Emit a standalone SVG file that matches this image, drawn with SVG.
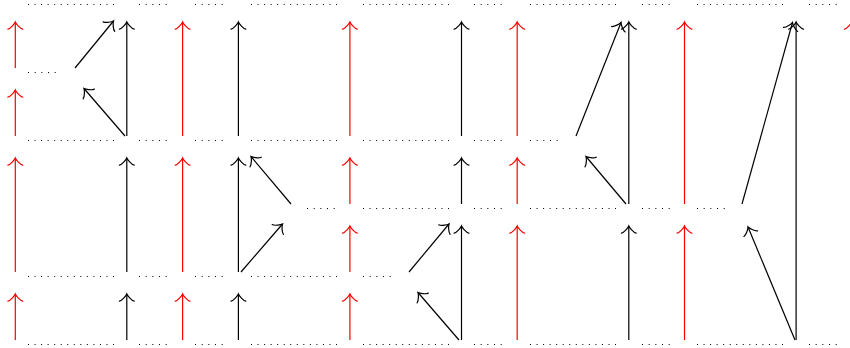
<svg xmlns="http://www.w3.org/2000/svg" width="850" height="348" viewBox="0 0 850 348">
<style>
.dl{stroke:#000;stroke-width:1.2;stroke-dasharray:1 5.54;fill:none}
.ds{stroke:#000;stroke-width:1.2;stroke-dasharray:1 5.67;fill:none}
.r{stroke:#ff0000;stroke-width:1.2;fill:none;marker-end:url(#ah-r)}
.k{stroke:#000;stroke-width:1.2;fill:none;marker-end:url(#ah-k)}
</style>
<defs>
<marker id="ah-r" markerUnits="userSpaceOnUse" orient="auto" viewBox="-10 -10 20 20" markerWidth="20" markerHeight="20" refX="0" refY="0" overflow="visible">
<path d="M -7.2 7.4 C -6.7 4.6 -1.4 0.5 0 0 C -1.4 -0.5 -6.7 -4.6 -7.2 -7.4" fill="none" stroke="#ff0000" stroke-width="1.2" stroke-linecap="round"/>
</marker>
<marker id="ah-k" markerUnits="userSpaceOnUse" orient="auto" viewBox="-10 -10 20 20" markerWidth="20" markerHeight="20" refX="0" refY="0" overflow="visible">
<path d="M -7.2 7.4 C -6.7 4.6 -1.4 0.5 0 0 C -1.4 -0.5 -6.7 -4.6 -7.2 -7.4" fill="none" stroke="#000" stroke-width="1.2" stroke-linecap="round"/>
</marker>
</defs>
<rect width="850" height="348" fill="#fff"/>
<g id="dots-row-0">
<line class="dl" x1="28" x2="114" y1="4.5" y2="4.5"/>
<line class="ds" x1="139" x2="166.7" y1="4.5" y2="4.5"/>
<line class="ds" x1="195" x2="222.7" y1="4.5" y2="4.5"/>
<line class="dl" x1="251" x2="337" y1="4.5" y2="4.5"/>
<line class="dl" x1="363" x2="449" y1="4.5" y2="4.5"/>
<line class="ds" x1="474" x2="501.7" y1="4.5" y2="4.5"/>
<line class="dl" x1="530" x2="616" y1="4.5" y2="4.5"/>
<line class="ds" x1="642" x2="669.7" y1="4.5" y2="4.5"/>
<line class="dl" x1="697" x2="783" y1="4.5" y2="4.5"/>
<line class="ds" x1="809" x2="836.7" y1="4.5" y2="4.5"/>
</g>
<g id="dots-row-1">
<line class="ds" x1="28" x2="55.7" y1="72.5" y2="72.5"/>
</g>
<g id="dots-row-2">
<line class="dl" x1="28" x2="114" y1="140.5" y2="140.5"/>
<line class="ds" x1="139" x2="166.7" y1="140.5" y2="140.5"/>
<line class="ds" x1="195" x2="222.7" y1="140.5" y2="140.5"/>
<line class="dl" x1="251" x2="337" y1="140.5" y2="140.5"/>
<line class="dl" x1="363" x2="449" y1="140.5" y2="140.5"/>
<line class="ds" x1="474" x2="501.7" y1="140.5" y2="140.5"/>
<line class="ds" x1="530" x2="557.7" y1="140.5" y2="140.5"/>
</g>
<g id="dots-row-3">
<line class="ds" x1="307" x2="334.7" y1="208.5" y2="208.5"/>
<line class="dl" x1="363" x2="449" y1="208.5" y2="208.5"/>
<line class="ds" x1="474" x2="501.7" y1="208.5" y2="208.5"/>
<line class="dl" x1="530" x2="616" y1="208.5" y2="208.5"/>
<line class="ds" x1="642" x2="669.7" y1="208.5" y2="208.5"/>
<line class="ds" x1="697" x2="724.7" y1="208.5" y2="208.5"/>
</g>
<g id="dots-row-4">
<line class="dl" x1="28" x2="114" y1="276.5" y2="276.5"/>
<line class="ds" x1="139" x2="166.7" y1="276.5" y2="276.5"/>
<line class="ds" x1="195" x2="222.7" y1="276.5" y2="276.5"/>
<line class="dl" x1="251" x2="337" y1="276.5" y2="276.5"/>
<line class="ds" x1="363" x2="390.7" y1="276.5" y2="276.5"/>
</g>
<g id="dots-row-5">
<line class="dl" x1="28" x2="114" y1="344.5" y2="344.5"/>
<line class="ds" x1="139" x2="166.7" y1="344.5" y2="344.5"/>
<line class="ds" x1="195" x2="222.7" y1="344.5" y2="344.5"/>
<line class="dl" x1="251" x2="337" y1="344.5" y2="344.5"/>
<line class="dl" x1="363" x2="449" y1="344.5" y2="344.5"/>
<line class="ds" x1="474" x2="501.7" y1="344.5" y2="344.5"/>
<line class="dl" x1="530" x2="616" y1="344.5" y2="344.5"/>
<line class="ds" x1="642" x2="669.7" y1="344.5" y2="344.5"/>
<line class="dl" x1="697" x2="783" y1="344.5" y2="344.5"/>
<line class="ds" x1="809" x2="836.7" y1="344.5" y2="344.5"/>
</g>
<g id="connectors">
<line class="r" x1="15.3" y1="68" x2="15.3" y2="22"/>
<line class="r" x1="15.3" y1="136" x2="15.3" y2="90"/>
<line class="r" x1="15.3" y1="272" x2="15.3" y2="158"/>
<line class="r" x1="15.3" y1="340" x2="15.3" y2="294"/>
<line class="r" x1="182.6" y1="136" x2="182.6" y2="22"/>
<line class="r" x1="182.6" y1="272" x2="182.6" y2="158"/>
<line class="r" x1="182.6" y1="340" x2="182.6" y2="294"/>
<line class="r" x1="349.9" y1="136" x2="349.9" y2="22"/>
<line class="r" x1="349.9" y1="204" x2="349.9" y2="158"/>
<line class="r" x1="349.9" y1="272" x2="349.9" y2="226"/>
<line class="r" x1="349.9" y1="340" x2="349.9" y2="294"/>
<line class="r" x1="517.2" y1="136" x2="517.2" y2="22"/>
<line class="r" x1="517.2" y1="204" x2="517.2" y2="158"/>
<line class="r" x1="517.2" y1="340" x2="517.2" y2="226"/>
<line class="r" x1="684.5" y1="204" x2="684.5" y2="22"/>
<line class="r" x1="684.5" y1="340" x2="684.5" y2="226"/>
<line class="r" x1="851.8" y1="204" x2="851.8" y2="22"/>
<line class="k" x1="126.8" y1="136" x2="126.8" y2="22"/>
<line class="k" x1="126.8" y1="272" x2="126.8" y2="158"/>
<line class="k" x1="126.8" y1="340" x2="126.8" y2="294"/>
<line class="k" x1="238.4" y1="136" x2="238.4" y2="22"/>
<line class="k" x1="238.4" y1="272" x2="238.4" y2="158"/>
<line class="k" x1="238.4" y1="340" x2="238.4" y2="294"/>
<line class="k" x1="461.5" y1="136" x2="461.5" y2="22"/>
<line class="k" x1="461.5" y1="204" x2="461.5" y2="158"/>
<line class="k" x1="461.5" y1="340" x2="461.5" y2="226"/>
<line class="k" x1="628.8" y1="204" x2="628.8" y2="22"/>
<line class="k" x1="628.8" y1="340" x2="628.8" y2="226"/>
<line class="k" x1="796.1" y1="340" x2="796.1" y2="22"/>
<line class="k" x1="75" y1="68" x2="113.5" y2="21"/>
<line class="k" x1="125" y1="136" x2="84" y2="88.5"/>
<line class="k" x1="291" y1="204" x2="251" y2="156.5"/>
<line class="k" x1="241" y1="272" x2="282.5" y2="224"/>
<line class="k" x1="409" y1="272" x2="449" y2="224"/>
<line class="k" x1="459" y1="340" x2="418" y2="292.5"/>
<line class="k" x1="576" y1="136" x2="621" y2="22.5"/>
<line class="k" x1="626" y1="204" x2="586" y2="156.5"/>
<line class="k" x1="742" y1="204" x2="792.5" y2="22.5"/>
<line class="k" x1="795" y1="340" x2="748" y2="227"/>
</g>
</svg>
